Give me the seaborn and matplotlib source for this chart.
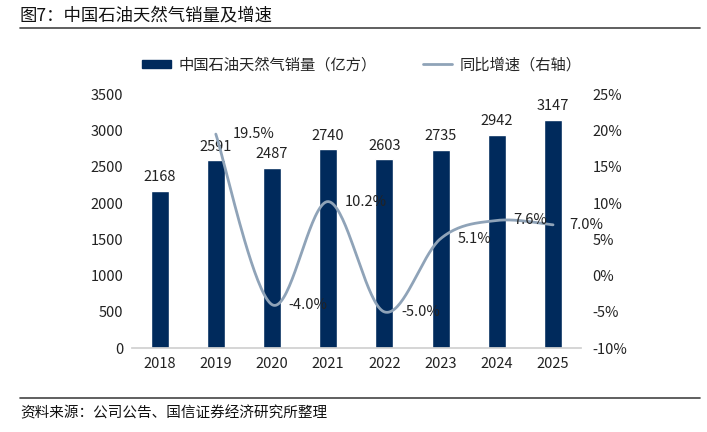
import numpy as np
import pandas as pd
import seaborn as sns
import matplotlib.pyplot as plt
from matplotlib.patches import Patch
from matplotlib.lines import Line2D

# data
years = ['2018', '2019', '2020', '2021', '2022', '2023', '2024', '2025']
sales = [2168, 2591, 2487, 2740, 2603, 2735, 2942, 3147]
growth_years = ['2019', '2020', '2021', '2022', '2023', '2024', '2025']
growth = [19.5, -4.0, 10.2, -5.0, 5.1, 7.6, 7.0]

bar_color = '#002a5c'
line_color = '#8fa3b8'

sns.set_theme(style='white')
plt.rcParams['font.family'] = ['Noto Sans CJK SC', 'DejaVu Sans']
plt.rcParams['axes.unicode_minus'] = False

df = pd.DataFrame({'year': years, 'sales': sales})

fig = plt.figure(figsize=(7.07, 4.32), dpi=100)
ax = fig.add_axes([0.186, 0.194, 0.636, 0.588])

sns.barplot(x='year', y='sales', data=df, color=bar_color, width=0.32,
            saturation=1, ax=ax)
ax.set_ylim(0, 3500)
ax.set_yticks(range(0, 3501, 500))
ax.set_xlim(-0.5, len(years) - 0.5)
ax.set_xlabel('')
ax.set_ylabel('')
for s in ['top', 'right', 'left']:
    ax.spines[s].set_visible(False)
ax.spines['bottom'].set_color('#d0d0d0')
ax.tick_params(axis='both', length=0, labelsize=10.5, colors='#222222', pad=6)

for i, v in enumerate(sales):
    ax.text(i, v + 90, str(v), ha='center', va='bottom', fontsize=10.5, color='#222222')

# right axis: smoothed growth line (Catmull-Rom like Excel smoothing)
ax2 = ax.twinx()
gx = np.array([years.index(y) for y in growth_years], dtype=float)
gy = np.array(growth, dtype=float)
px = np.concatenate([[gx[0]], gx, [gx[-1]]])
py = np.concatenate([[gy[0]], gy, [gy[-1]]])
xs, ys = [], []
t = np.linspace(0, 1, 40)
for k in range(1, len(px) - 2):
    p0, p1, p2, p3 = [np.array([px[j], py[j]]) for j in (k - 1, k, k + 1, k + 2)]
    c1 = p1 + (p2 - p0) / 6
    c2 = p2 - (p3 - p1) / 6
    seg = ((1 - t) ** 3)[:, None] * p1 + (3 * (1 - t) ** 2 * t)[:, None] * c1 \
        + (3 * (1 - t) * t ** 2)[:, None] * c2 + (t ** 3)[:, None] * p2
    xs.extend(seg[:, 0])
    ys.extend(seg[:, 1])
sns.lineplot(x=xs, y=ys, sort=False, color=line_color, linewidth=2, ax=ax2)
ax2.set_ylim(-10, 25)
ax2.set_yticks(range(-10, 26, 5))
ax2.set_yticklabels([f'{v}%' for v in range(-10, 26, 5)])
for s in ['top', 'right', 'left', 'bottom']:
    ax2.spines[s].set_visible(False)
ax2.tick_params(axis='y', length=0, labelsize=10.5, colors='#222222', pad=8)

for x, v in zip(gx, gy):
    ax2.annotate(f'{v:.1f}%', (x, v), xytext=(12, 0), textcoords='offset points',
                 ha='left', va='center', fontsize=10.5, color='#222222')

handles = [Patch(color=bar_color), Line2D([0], [0], color=line_color, lw=2)]
fig.legend(handles, ['中国石油天然气销量（亿方）', '同比增速（右轴）'],
           loc='center', bbox_to_anchor=(0.512, 0.85), ncol=2, frameon=False,
           fontsize=11, handlelength=1.9, handleheight=0.5, handletextpad=0.5,
           columnspacing=3)

fig.text(0.028, 0.964, '图7：中国石油天然气销量及增速', fontsize=12.5, ha='left', va='center',
         color='#111111', fontweight='medium')
fig.add_artist(Line2D([0.028, 0.99], [0.935, 0.935], color='#444444', lw=1.2))
fig.add_artist(Line2D([0.028, 0.99], [0.078, 0.078], color='#444444', lw=1.2))
fig.text(0.028, 0.043, '资料来源：公司公告、国信证券经济研究所整理', fontsize=10.5,
         ha='left', va='center', color='#111111')

fig.savefig('out.png', dpi=100)
